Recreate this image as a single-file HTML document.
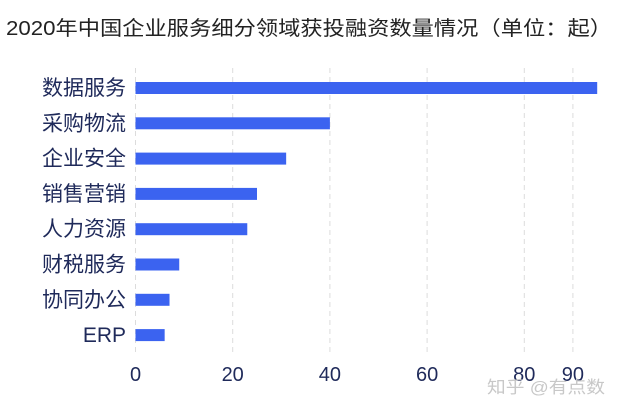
<!DOCTYPE html>
<html><head><meta charset="utf-8"><style>
body{margin:0;background:#fff;}
svg text{font-family:"Liberation Sans","Noto Sans CJK SC",sans-serif;}
</style></head><body>
<svg id="c" width="621" height="415" xmlns="http://www.w3.org/2000/svg">
<text x="6" y="35" font-size="20" textLength="606" lengthAdjust="spacingAndGlyphs" fill="#222">2020年中国企业服务细分领域获投融资数量情况（单位：起）</text>
<g id="grid"></g><g id="bars"></g><g id="labels"></g><g id="ticks"></g>
<text x="487" y="393" font-size="17" textLength="118" lengthAdjust="spacingAndGlyphs" fill="#c8c8c8">知乎 @有点数</text>
</svg>
<script>
const categories=["数据服务","采购物流","企业安全","销售营销","人力资源","财税服务","协同办公","ERP"];
const values=[95,40,31,25,23,9,7,6];
const ticks=[0,20,40,60,80,90];
const NS="http://www.w3.org/2000/svg";
const x=v=>135.5+v*4.86;
const y=i=>88+i*35.3;
function mk(t,a,p){const e=document.createElementNS(NS,t);for(const k in a)e.setAttribute(k,a[k]);document.getElementById(p).appendChild(e);return e;}
ticks.forEach(t=>{
 const l=mk('line',{x1:x(t),x2:x(t),y1:68,y2:354,stroke:'#dcdcdc','stroke-dasharray':'5,4','stroke-width':1},'grid');
 
 
 const tx=mk('text',{x:x(t),y:381,'font-size':20,'text-anchor':'middle',fill:'#1f2a5a'},'ticks');
 tx.textContent=t;
 
 
});
categories.forEach((c,i)=>{
 const r=mk('rect',{x:x(0),y:y(i)-6,width:x(values[i])-x(0),height:12,fill:'#3b63f0'},'bars');
 
 
 const t=mk('text',{x:126,y:y(i)+7,'font-size':21,'text-anchor':'end',fill:'#1f2a5a'},'labels');
 t.textContent=c;
 
 
});
</script>
</body></html>
